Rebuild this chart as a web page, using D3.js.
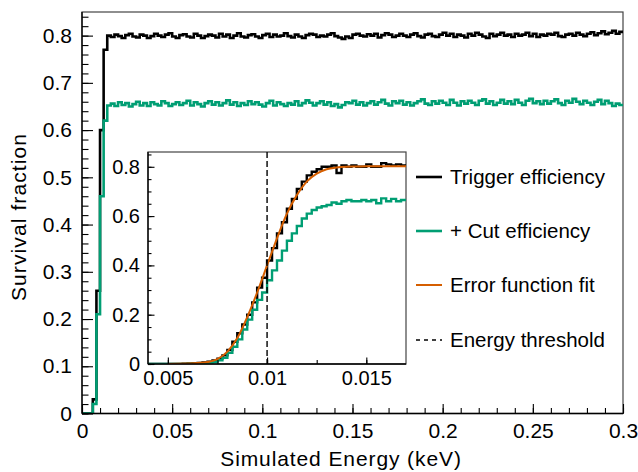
<!DOCTYPE html>
<html>
<head>
<meta charset="utf-8">
<script src="https://cdn.jsdelivr.net/npm/d3@7"></script>
<style>
  body { margin: 0; background: #fff; }
  text { font-family: "Liberation Sans", Arial, sans-serif; fill: #000; }
</style>
</head>
<body>
<script>
// main histogram: bins of 0.002 keV starting at 0
var mainBinStart = 0, mainBinWidth = 0.002;
var triggerMain = [
  0, 0, 0, 0.03, 0.26, 0.60, 0.77, 0.800,
  .797,.802,.799,.795,.801,.804,.798,.796,.802,.800,
  .795,.799,.804,.800,.797,.802,.805,.798,.795,.801,
  .803,.798,.796,.804,.800,.795,.799,.802,.800,.796,
  .804,.798,.802,.795,.800,.805,.798,.796,.801,.803,
  .798,.795,.801,.804,.797,.802,.798,.800,.805,.799,
  .796,.802,.798,.795,.801,.804,.802,.797,.800,.798,
  .802,.805,.799,.796,.793,.798,.795,.802,.804,.800,
  .798,.803,.800,.804,.796,.801,.805,.802,.797,.800,
  .804,.800,.797,.802,.805,.799,.796,.802,.804,.799,
  .797,.802,.806,.800,.804,.797,.802,.800,.796,.804,
  .800,.806,.802,.798,.795,.804,.799,.802,.806,.800,
  .802,.797,.804,.800,.802,.806,.799,.804,.797,.802,
  .800,.804,.802,.806,.799,.797,.802,.804,.800,.806,
  .802,.799,.804,.807,.801,.805,.809,.803,.806,.810,
  .804,.808
];
var cutMain = [
  0, 0, 0, 0.02, 0.21, 0.46, 0.62, 0.652,
  .656,.651,.659,.653,.657,.650,.655,.660,.652,.657,
  .651,.659,.655,.652,.661,.657,.651,.655,.659,.653,
  .657,.662,.652,.659,.655,.650,.657,.661,.654,.659,
  .652,.657,.663,.654,.659,.651,.657,.653,.661,.655,
  .659,.654,.650,.657,.662,.652,.659,.655,.651,.657,
  .654,.661,.652,.657,.663,.658,.652,.657,.661,.654,
  .659,.651,.655,.648,.653,.659,.657,.662,.654,.659,
  .652,.657,.661,.654,.659,.664,.656,.652,.661,.657,
  .662,.654,.659,.652,.657,.661,.665,.656,.653,.661,
  .656,.662,.658,.653,.664,.658,.652,.661,.656,.662,
  .658,.653,.662,.665,.656,.661,.653,.658,.664,.656,
  .661,.655,.664,.658,.653,.662,.666,.657,.661,.655,
  .662,.656,.661,.665,.657,.653,.662,.658,.666,.660,
  .655,.662,.658,.653,.660,.664,.655,.662,.657,.651,
  .656,.653
];

// inset histogram: bins of 0.00025 keV starting at 0.004
var insetBinStart = 0.004, insetBinWidth = 0.00025;
var triggerInset = [
  0, 0, 0, 0, 0, 0, 0, 0.001, 0.002, 0.003,
  0.004, 0.006, 0.009, 0.014, 0.022, 0.035, 0.057, 0.09, 0.125, 0.16,
  0.20, 0.25, 0.31, 0.35, 0.42, 0.47, 0.53, 0.575, 0.63, 0.67,
  0.71, 0.74, 0.765, 0.78, 0.79, 0.80, 0.80, 0.805, 0.775, 0.805,
  0.80, 0.805, 0.80, 0.80, 0.81, 0.80, 0.80, 0.815, 0.81, 0.805,
  0.81, 0.805
];
var cutInset = [
  0, 0, 0, 0, 0, 0, 0, 0, 0.001, 0.001,
  0.002, 0.003, 0.005, 0.008, 0.015, 0.025, 0.045, 0.07, 0.10, 0.14,
  0.18, 0.22, 0.26, 0.29, 0.34, 0.38, 0.42, 0.46, 0.50, 0.53,
  0.56, 0.59, 0.61, 0.625, 0.635, 0.64, 0.645, 0.655, 0.65, 0.66,
  0.665, 0.66, 0.66, 0.665, 0.66, 0.665, 0.652, 0.672, 0.66, 0.67,
  0.66, 0.665
];
// error function fit
var fitX = [0.005, 0.0055, 0.006, 0.0065, 0.007, 0.0075, 0.008, 0.0085, 0.009, 0.0095,
            0.010, 0.0105, 0.011, 0.0115, 0.012, 0.0125, 0.013, 0.0135, 0.014, 0.0145,
            0.015, 0.0155, 0.016, 0.0165, 0.017];
var fitY = [0.0005, 0.001, 0.002, 0.004, 0.008, 0.02, 0.05, 0.105, 0.19, 0.29,
            0.40, 0.51, 0.61, 0.685, 0.74, 0.772, 0.79, 0.797, 0.80, 0.801,
            0.802, 0.802, 0.802, 0.802, 0.802];
var threshold = 0.01;

var xTicks = [0, 0.05, 0.1, 0.15, 0.2, 0.25, 0.3];
var yTicks = [0, 0.1, 0.2, 0.3, 0.4, 0.5, 0.6, 0.7, 0.8];
var insetXTicks = [0.005, 0.01, 0.015];
var insetYTicks = [0, 0.2, 0.4, 0.6, 0.8];

var legendLabels = ["Trigger efficiency", "+ Cut efficiency", "Error function fit", "Energy threshold"];

var width = 638, height = 472;
var svg = d3.select("body").append("svg")
    .attr("width", width)
    .attr("height", height);
svg.append("rect").attr("width", width).attr("height", height).attr("fill", "#fff");

var fmt = d3.format("~g");

// histogram step path from bin values
function steps(vals, start, w) {
    var pts = [];
    vals.forEach(function (v, i) {
        pts.push([start + i * w, v]);
        pts.push([start + (i + 1) * w, v]);
    });
    return pts;
}

// ---------- main frame
var m = { left: 82, right: 623, top: 12, bottom: 413.5 };
var x = d3.scaleLinear().domain([0, 0.3]).range([m.left, m.right]);
var y = d3.scaleLinear().domain([0, 0.85]).range([m.bottom, m.top]);

svg.append("clipPath").attr("id", "mainclip")
    .append("rect").attr("x", m.left).attr("y", m.top)
    .attr("width", m.right - m.left).attr("height", m.bottom - m.top);

svg.append("rect")
    .attr("x", m.left).attr("y", m.top)
    .attr("width", m.right - m.left).attr("height", m.bottom - m.top)
    .attr("fill", "none").attr("stroke", "#444").attr("stroke-width", 1.2);

var line = d3.line().x(function (d) { return x(d[0]); }).y(function (d) { return y(d[1]); });

var gMain = svg.append("g").attr("clip-path", "url(#mainclip)");
gMain.append("path")
    .attr("d", line(steps(triggerMain, mainBinStart, mainBinWidth)))
    .attr("fill", "none").attr("stroke", "#000").attr("stroke-width", 2.6);
gMain.append("path")
    .attr("d", line(steps(cutMain, mainBinStart, mainBinWidth)))
    .attr("fill", "none").attr("stroke", "#009E73").attr("stroke-width", 2.6);

// axes
var xMinor = d3.range(0, 0.3001, 0.01);
var yMinor = d3.range(0, 0.8501, 0.02);
svg.append("g").attr("transform", "translate(0," + m.bottom + ")")
    .call(d3.axisBottom(x).tickValues(xMinor).tickSize(-5.5).tickFormat(""))
    .call(function (g) { g.select(".domain").remove(); });
svg.append("g").attr("transform", "translate(0," + m.bottom + ")")
    .call(d3.axisBottom(x).tickValues(xTicks).tickSize(-9.5).tickPadding(9.5).tickFormat(fmt))
    .call(function (g) {
        g.select(".domain").remove();
        g.selectAll("text").attr("font-size", 21).attr("font-family", null);
    });
svg.append("g").attr("transform", "translate(0,0)")
    .attr("transform", "translate(" + m.left + ",0)")
    .call(d3.axisLeft(y).tickValues(yMinor).tickSize(-6.5).tickFormat(""))
    .call(function (g) { g.select(".domain").remove(); });
svg.append("g").attr("transform", "translate(" + m.left + ",0)")
    .call(d3.axisLeft(y).tickValues(yTicks).tickSize(-11).tickPadding(10).tickFormat(fmt))
    .call(function (g) {
        g.select(".domain").remove();
        g.selectAll("text").attr("font-size", 21).attr("font-family", null);
    });
svg.selectAll(".tick line").attr("stroke", "#000").attr("stroke-width", 1.1);
svg.append("line").attr("x1", m.left).attr("x2", m.right).attr("y1", m.bottom).attr("y2", m.bottom)
    .attr("stroke", "#000").attr("stroke-width", 1.3);
svg.append("line").attr("x1", m.left).attr("x2", m.left).attr("y1", m.top).attr("y2", m.bottom)
    .attr("stroke", "#000").attr("stroke-width", 1.3);

svg.append("text")
    .attr("x", 341).attr("y", 466)
    .attr("text-anchor", "middle")
    .attr("font-size", 21).attr("letter-spacing", 0.9)
    .text("Simulated Energy (keV)");
svg.append("text")
    .attr("transform", "translate(26,217) rotate(-90)")
    .attr("text-anchor", "middle")
    .attr("font-size", 21).attr("letter-spacing", 1.1)
    .text("Survival fraction");

// ---------- inset
var n = { left: 148, right: 406, top: 152, bottom: 364 };
var xi = d3.scaleLinear().domain([0.004, 0.017]).range([n.left, n.right]);
var yi = d3.scaleLinear().domain([0, 0.86]).range([n.bottom, n.top]);

svg.append("rect")
    .attr("x", n.left).attr("y", n.top)
    .attr("width", n.right - n.left).attr("height", n.bottom - n.top)
    .attr("fill", "#fff").attr("stroke", "#444").attr("stroke-width", 1.2);
svg.append("clipPath").attr("id", "insetclip")
    .append("rect").attr("x", n.left).attr("y", n.top - 2)
    .attr("width", n.right - n.left).attr("height", n.bottom - n.top + 2);

var linei = d3.line().x(function (d) { return xi(d[0]); }).y(function (d) { return yi(d[1]); });
var gIn = svg.append("g").attr("clip-path", "url(#insetclip)");
gIn.append("path")
    .attr("d", linei(steps(triggerInset, insetBinStart, insetBinWidth)))
    .attr("fill", "none").attr("stroke", "#000").attr("stroke-width", 2.4);
gIn.append("path")
    .attr("d", linei(steps(cutInset, insetBinStart, insetBinWidth)))
    .attr("fill", "none").attr("stroke", "#009E73").attr("stroke-width", 2.4);
gIn.append("path")
    .attr("d", d3.line().curve(d3.curveMonotoneX)
        .x(function (d, i) { return xi(fitX[i]); })
        .y(function (d) { return yi(d); })(fitY))
    .attr("fill", "none").attr("stroke", "#D55E00").attr("stroke-width", 2);
gIn.append("line")
    .attr("x1", xi(threshold)).attr("x2", xi(threshold))
    .attr("y1", n.top).attr("y2", n.bottom)
    .attr("stroke", "#000").attr("stroke-width", 1.4).attr("stroke-dasharray", "6,3");

var xiMinor = d3.range(0.005, 0.01701, 0.0025);
var yiMinor = d3.range(0, 0.8601, 0.05);
var gi = svg.append("g");
gi.append("g").attr("transform", "translate(0," + n.bottom + ")")
    .call(d3.axisBottom(xi).tickValues(xiMinor).tickSize(-4).tickFormat(""))
    .call(function (g) { g.select(".domain").remove(); });
gi.append("g").attr("transform", "translate(0," + n.bottom + ")")
    .call(d3.axisBottom(xi).tickValues(insetXTicks).tickSize(-6.5).tickPadding(6.8).tickFormat(fmt))
    .call(function (g) {
        g.select(".domain").remove();
        g.selectAll("text").attr("font-size", 20).attr("font-family", null);
    });
gi.append("g").attr("transform", "translate(" + n.left + ",0)")
    .call(d3.axisLeft(yi).tickValues(yiMinor).tickSize(-3.5).tickFormat(""))
    .call(function (g) { g.select(".domain").remove(); });
gi.append("g").attr("transform", "translate(" + n.left + ",0)")
    .call(d3.axisLeft(yi).tickValues(insetYTicks).tickSize(-6.5).tickPadding(8).tickFormat(fmt))
    .call(function (g) {
        g.select(".domain").remove();
        g.selectAll("text").attr("font-size", 20).attr("font-family", null);
    });
gi.selectAll(".tick line").attr("stroke", "#000").attr("stroke-width", 1.1);
gi.append("line").attr("x1", n.left).attr("x2", n.right).attr("y1", n.bottom).attr("y2", n.bottom)
    .attr("stroke", "#000").attr("stroke-width", 1.3);
gi.append("line").attr("x1", n.left).attr("x2", n.left).attr("y1", n.top).attr("y2", n.bottom)
    .attr("stroke", "#000").attr("stroke-width", 1.3);

// ---------- legend
var legendY = [177, 231, 285, 340];
var legendStyle = [
    { c: "#000", w: 2.6, dash: null },
    { c: "#009E73", w: 2.6, dash: null },
    { c: "#D55E00", w: 2, dash: null },
    { c: "#000", w: 1.4, dash: "4,4" }
];
var leg = svg.append("g").selectAll("g")
    .data(legendLabels)
    .enter().append("g")
    .attr("transform", function (d, i) { return "translate(0," + legendY[i] + ")"; });
leg.append("line")
    .attr("x1", 416).attr("x2", 442)
    .attr("stroke", function (d, i) { return legendStyle[i].c; })
    .attr("stroke-width", function (d, i) { return legendStyle[i].w; })
    .attr("stroke-dasharray", function (d, i) { return legendStyle[i].dash; });
leg.append("text")
    .attr("x", 450).attr("dy", "0.36em")
    .attr("font-size", 20.5)
    .text(function (d) { return d; });
</script>
</body>
</html>
